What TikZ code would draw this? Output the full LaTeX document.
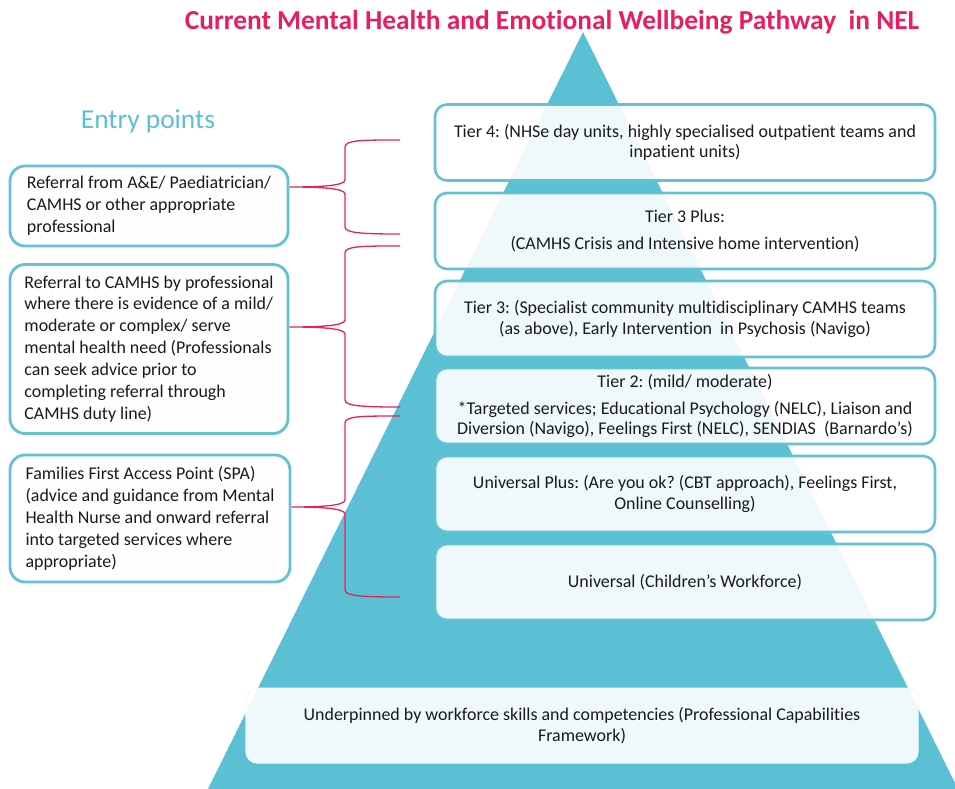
\documentclass[tikz,border=0pt]{standalone}
\usepackage{fontspec}
\setmainfont[Ligatures=NoCommon]{Carlito}
\definecolor{pyr}{HTML}{5CC0D4}
\definecolor{boxline}{HTML}{62C1D3}
\definecolor{titlecol}{HTML}{E91E5E}
\definecolor{bracecol}{HTML}{E3245C}
\definecolor{txt}{HTML}{1A1A1A}
\begin{document}
\begin{tikzpicture}[x=1bp,y=-1bp,
  tierbox/.style={draw=boxline, line width=2.6bp, rounded corners=12bp, fill=white, fill opacity=0.9, text opacity=1,
     minimum width=500bp, minimum height=76bp, align=center, text=txt, inner sep=0pt,
     font=\fontsize{18}{20.5}\selectfont\frenchspacing},
  entrybox/.style={draw=boxline, line width=2.8bp, rounded corners=15bp, fill=white!99!gray,
     align=left, text=txt, inner sep=0pt, font=\fontsize{18}{22}\selectfont\frenchspacing},
  basebox/.style={draw=white!90!pyr, line width=1bp, rounded corners=11bp, fill=white, fill opacity=0.9, text opacity=1,
     minimum width=672bp, minimum height=75bp, align=center, text=txt, inner sep=0pt,
     font=\fontsize{18}{21}\selectfont\frenchspacing},
  brace/.style={draw=bracecol, line width=1.3bp}]
\useasboundingbox (0,0) rectangle (955,789);
\begin{scope}
\clip (0,0) rectangle (955,789);
\fill[pyr] (583,32) -- (958,789) -- (208,789) -- cycle;
\end{scope}

% title
\node[text=titlecol, font=\fontsize{27.5}{32}\selectfont\bfseries] (title) at (552,22) {Current Mental Health and Emotional Wellbeing Pathway \ in NEL};
\node[text=pyr, font=\fontsize{27.5}{32}\selectfont] (entry) at (148,121) {Entry points};

% tier boxes
\node[tierbox] (t4) at (685,142.5) {Tier 4: (NHSe day units, highly specialised outpatient teams and\\inpatient units)};
\node[tierbox] (t3p) at (685,231) {Tier 3 Plus:\\[7bp](CAMHS Crisis and Intensive home intervention)};
\node[tierbox] (t3) at (685,319) {Tier 3: (Specialist community multidisciplinary CAMHS teams\\(as above), Early Intervention \ in Psychosis (Navigo)};
\node[tierbox] (t2) at (685,406) {Tier 2: (mild/ moderate)\\[7bp]*Targeted services; Educational Psychology (NELC), Liaison and\\Diversion (Navigo), Feelings First (NELC), SENDIAS \ (Barnardo's)};
\node[tierbox] (up) at (685,494) {Universal Plus: (Are you ok? (CBT approach), Feelings First,\\Online Counselling)};
\node[tierbox] (un) at (685,582) {Universal (Children’s Workforce)};
\node[basebox] (base) at (582,725.5) {Underpinned by workforce skills and competencies (Professional Capabilities\\Framework)};

% entry boxes
\node[entrybox, minimum width=278bp, minimum height=80bp] (ae) at (149,206) {Referral from A\&E/ Paediatrician/\\CAMHS or other appropriate\\professional};
\node[entrybox, minimum width=278bp, minimum height=169bp] (camhs) at (149,349) {Referral to CAMHS by professional\\where there is evidence of a mild/\\moderate or complex/ serve\\mental health need (Professionals\\can seek advice prior to\\completing referral through\\CAMHS duty line)};
\node[entrybox, minimum width=280bp, minimum height=127bp] (ff) at (150,518.5) {Families First Access Point (SPA)\\(advice and guidance from Mental\\Health Nurse and onward referral\\into targeted services where\\appropriate)};

% brace end points
\coordinate (b1t) at (400,140);
\coordinate (b1m) at (0,187);
\coordinate (b1b) at (400,234);
\coordinate (b2t) at (400,246);
\coordinate (b2m) at (0,327);
\coordinate (b2b) at (400,407);
\coordinate (b3t) at (400,416);
\coordinate (b3m) at (0,507);
\coordinate (b3b) at (400,597);

\draw[brace] (b1t) .. controls (362,140) and (345,140) .. (345,147) -- (345,180)
  .. controls (345,186) and (318,187) .. (ae.east |- b1m)
  .. controls (318,187) and (345,188) .. (345,194) -- (345,227)
  .. controls (345,233) and (362,234) .. (b1b);
\draw[brace] (b2t) .. controls (362,246) and (345,246) .. (345,253) -- (345,320)
  .. controls (345,326) and (318,327) .. (camhs.east |- b2m)
  .. controls (318,327) and (345,328) .. (345,334) -- (345,400)
  .. controls (345,406) and (362,407) .. (b2b);
\draw[brace] (b3t) .. controls (362,416) and (345,416) .. (345,423) -- (345,500)
  .. controls (345,506) and (318,507) .. (ff.east |- b3m)
  .. controls (318,507) and (345,508) .. (345,514) -- (345,590)
  .. controls (345,596) and (362,597) .. (b3b);
\end{tikzpicture}
\end{document}
